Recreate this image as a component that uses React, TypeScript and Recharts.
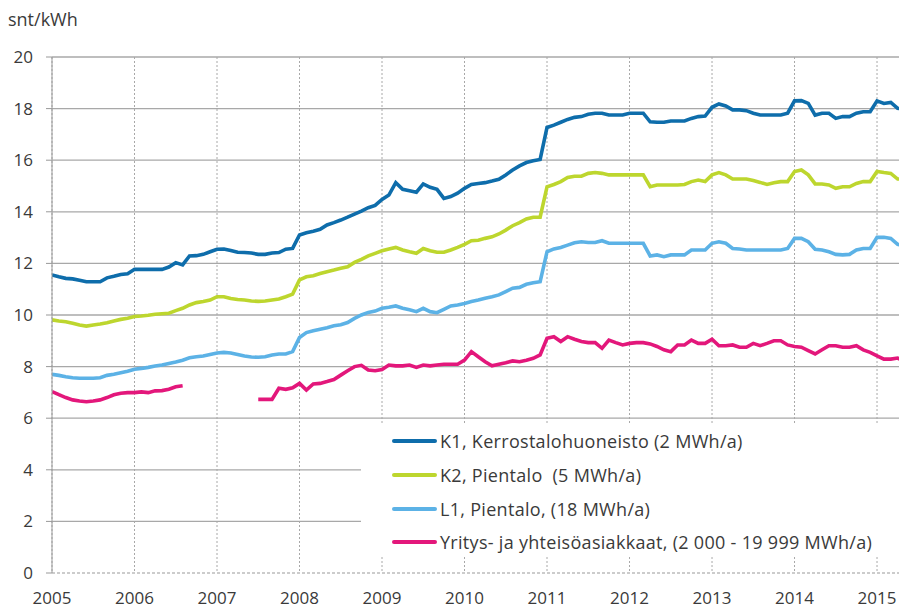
import React from "react";
import { LineChart, Line, XAxis, YAxis, CartesianGrid } from "recharts";

const months: number[] = Array.from({ length: 125 }, (_, i) => i);
const yearTicks = [0, 12, 24, 36, 48, 60, 72, 84, 96, 108, 120];
const yearLabels = ["2005", "2006", "2007", "2008", "2009", "2010", "2011", "2012", "2013", "2014", "2015"];
const yTicks = [0, 2, 4, 6, 8, 10, 12, 14, 16, 18, 20];

const k1 = [
  11.55, 11.48, 11.42, 11.4, 11.35, 11.29, 11.29, 11.29, 11.44, 11.5, 11.57, 11.6,
  11.77, 11.77, 11.77, 11.77, 11.77, 11.86, 12.03, 11.94, 12.29, 12.3, 12.35, 12.45,
  12.55, 12.56, 12.5, 12.43, 12.42, 12.4, 12.35, 12.35, 12.4, 12.42, 12.55, 12.58,
  13.1, 13.19, 13.25, 13.32, 13.49, 13.58, 13.68, 13.79, 13.91, 14.03, 14.16, 14.25,
  14.48, 14.65, 15.13, 14.87, 14.82, 14.76, 15.08, 14.95, 14.87, 14.52, 14.59, 14.72,
  14.91, 15.06, 15.1, 15.13, 15.19, 15.26, 15.43, 15.62, 15.78, 15.91, 15.98, 16.03,
  17.27, 17.36, 17.47, 17.58, 17.66, 17.69, 17.78, 17.82, 17.82, 17.75, 17.75, 17.75,
  17.82, 17.82, 17.82, 17.49, 17.47, 17.47, 17.52, 17.52, 17.52, 17.62, 17.69, 17.71,
  18.05, 18.18, 18.1, 17.95, 17.95, 17.92, 17.82, 17.75, 17.75, 17.75, 17.75, 17.82,
  18.3, 18.31, 18.2, 17.75, 17.82, 17.82, 17.62, 17.69, 17.69, 17.82, 17.88, 17.88,
  18.3, 18.2, 18.24, 18.01, 17.97,
];

const k2 = [
  9.81, 9.77, 9.74, 9.68, 9.61, 9.57, 9.61, 9.65, 9.7, 9.77, 9.83, 9.87,
  9.94, 9.96, 9.99, 10.03, 10.05, 10.07, 10.17, 10.26, 10.39, 10.48, 10.52, 10.58,
  10.71, 10.71, 10.64, 10.6, 10.58, 10.54, 10.53, 10.54, 10.58, 10.62, 10.71, 10.81,
  11.36, 11.48, 11.52, 11.61, 11.68, 11.74, 11.81, 11.87, 12.04, 12.16, 12.29, 12.39,
  12.49, 12.56, 12.62, 12.52, 12.45, 12.39, 12.58, 12.49, 12.43, 12.43, 12.52, 12.62,
  12.74, 12.88, 12.9, 12.97, 13.03, 13.14, 13.29, 13.46, 13.58, 13.72, 13.79, 13.79,
  14.97, 15.06, 15.17, 15.33, 15.38, 15.38, 15.49, 15.52, 15.49, 15.43, 15.43, 15.43,
  15.43, 15.43, 15.43, 14.97, 15.04, 15.04, 15.04, 15.04, 15.06, 15.17, 15.23, 15.17,
  15.43, 15.52, 15.43, 15.27, 15.27, 15.27, 15.21, 15.14, 15.06, 15.13, 15.17, 15.17,
  15.56, 15.62, 15.43, 15.08, 15.08, 15.04, 14.91, 14.97, 14.97, 15.1, 15.17, 15.17,
  15.56, 15.52, 15.49, 15.27, 15.27,
];

const l1 = [
  7.7, 7.66, 7.61, 7.57, 7.55, 7.55, 7.55, 7.57, 7.66, 7.7, 7.76, 7.82,
  7.9, 7.93, 7.97, 8.02, 8.06, 8.12, 8.18, 8.25, 8.34, 8.38, 8.41, 8.47,
  8.53, 8.55, 8.53, 8.47, 8.41, 8.37, 8.36, 8.38, 8.45, 8.49, 8.49, 8.58,
  9.13, 9.32, 9.39, 9.45, 9.51, 9.58, 9.62, 9.71, 9.87, 10.0, 10.1, 10.15,
  10.26, 10.3, 10.35, 10.26, 10.2, 10.13, 10.26, 10.13, 10.09, 10.22, 10.35, 10.39,
  10.45, 10.52, 10.58, 10.65, 10.71, 10.78, 10.91, 11.04, 11.07, 11.19, 11.25, 11.29,
  12.45, 12.56, 12.62, 12.71, 12.8, 12.84, 12.81, 12.81, 12.88, 12.78, 12.78, 12.78,
  12.78, 12.78, 12.78, 12.29, 12.33, 12.26, 12.33, 12.33, 12.33, 12.52, 12.52, 12.52,
  12.78, 12.84, 12.78, 12.58, 12.56, 12.52, 12.52, 12.52, 12.52, 12.52, 12.52, 12.58,
  12.97, 12.97, 12.84, 12.55, 12.52, 12.45, 12.35, 12.33, 12.35, 12.52, 12.58, 12.58,
  13.01, 13.01, 12.97, 12.74, 12.69,
];

const yritys: (number | null)[] = [
  7.03, 6.91, 6.8, 6.71, 6.67, 6.64, 6.67, 6.71, 6.8, 6.91, 6.97, 6.99,
  6.99, 7.02, 6.99, 7.06, 7.07, 7.12, 7.22, 7.26, null, null, null, null,
  null, null, null, null, null, null, 6.73, 6.73, 6.73, 7.16, 7.12, 7.18,
  7.35, 7.09, 7.33, 7.35, 7.42, 7.5, 7.67, 7.84, 8.0, 8.05, 7.87, 7.84,
  7.89, 8.06, 8.03, 8.03, 8.06, 7.97, 8.06, 8.03, 8.06, 8.09, 8.09, 8.09,
  8.25, 8.58, 8.38, 8.19, 8.03, 8.09, 8.15, 8.22, 8.19, 8.25, 8.32, 8.45,
  9.1, 9.16, 8.97, 9.16, 9.06, 8.97, 8.93, 8.93, 8.71, 9.03, 8.93, 8.84,
  8.9, 8.93, 8.93, 8.88, 8.78, 8.65, 8.58, 8.84, 8.84, 9.03, 8.9, 8.9,
  9.06, 8.81, 8.81, 8.84, 8.75, 8.75, 8.9, 8.81, 8.9, 9.0, 9.0, 8.84,
  8.78, 8.75, 8.62, 8.49, 8.65, 8.81, 8.81, 8.75, 8.75, 8.81, 8.65, 8.55,
  8.42, 8.29, 8.29, 8.33, 8.2,
];

const seriesKeys = ["k1", "k2", "l1", "yritys"];
const seriesNames = [
  "K1, Kerrostalohuoneisto (2 MWh/a)",
  "K2, Pientalo  (5 MWh/a)",
  "L1, Pientalo, (18 MWh/a)",
  "Yritys- ja yhteisöasiakkaat, (2 000 - 19 999 MWh/a)",
];
const seriesColors = ["#0E6DAB", "#BDD62E", "#5CB2E6", "#E3177B"];

const data = months.map((m) => ({
  m,
  k1: k1[m],
  k2: k2[m],
  l1: l1[m],
  yritys: yritys[m],
}));

const FONT = "'Open Sans', sans-serif";
const TXT = "#3a3a3a";

export default function App() {
  return (
    <div style={{ position: "relative", width: 907, height: 610, marginLeft: -8, marginTop: -8, background: "#fff", fontFamily: FONT }}>
      <div style={{ position: "absolute", left: 8, top: 8, fontSize: 18, color: TXT, lineHeight: "22px" }}>snt/kWh</div>
      <LineChart width={907} height={610} data={data} margin={{ top: 57, right: 0, bottom: 0, left: 0 }}>
        <CartesianGrid vertical={false} stroke="#a8a8a8" strokeWidth={1.3} horizontalValues={[2, 4, 6, 8, 10, 12, 14, 16, 18, 20]} />
        <CartesianGrid horizontal={false} stroke="#a8a8a8" strokeDasharray="2 2" />
        <XAxis
          dataKey="m"
          type="number"
          domain={[0, 124.36]}
          allowDataOverflow
          ticks={yearTicks}
          tickFormatter={(v: number) => yearLabels[yearTicks.indexOf(v)] ?? ""}
          height={37}
          tickLine={false}
          tickSize={0}
          tickMargin={19}
          axisLine={{ stroke: "#999", strokeDasharray: "3 2" }}
          tick={{ fill: TXT, fontSize: 17, fontFamily: FONT }}
          interval={0}
        />
        <YAxis
          domain={[0, 20]}
          ticks={yTicks}
          width={52}
          tickSize={6}
          tickMargin={13}
          tickLine={{ stroke: "#999" }}
          axisLine={{ stroke: "#999" }}
          tick={{ fill: TXT, fontSize: 17, fontFamily: FONT }}
          interval={0}
        />
        {seriesKeys.map((k, i) => (
          <Line
            key={k}
            dataKey={k}
            name={seriesNames[i]}
            stroke={seriesColors[i]}
            strokeWidth={3.6}
            dot={false}
            activeDot={false}
            type="linear"
            isAnimationActive={false}
          />
        ))}
      </LineChart>
      <div style={{ position: "absolute", left: 361, top: 423, width: 546, height: 134, background: "#fff" }}>
        {seriesNames.map((n, i) => (
          <div key={n} style={{ position: "absolute", left: 0, top: 1 + i * 33.8, height: 34, display: "flex", alignItems: "center" }}>
            <div style={{ marginLeft: 31, width: 45, height: 4, borderRadius: 2, background: seriesColors[i] }} />
            <span style={{ marginLeft: 3, fontSize: 18, letterSpacing: 0.3, color: TXT, whiteSpace: "pre" }}>{n}</span>
          </div>
        ))}
      </div>
    </div>
  );
}
